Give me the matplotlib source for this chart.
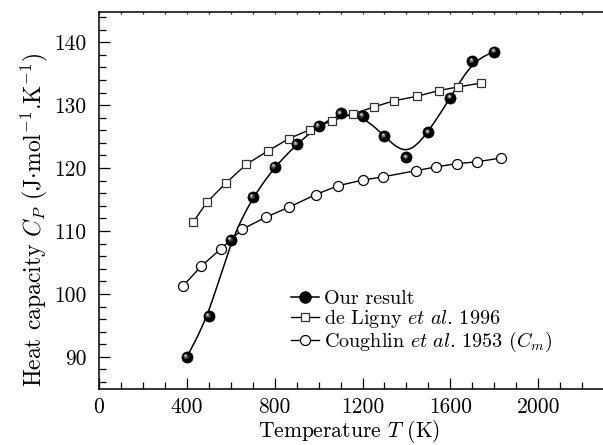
import numpy as np
import matplotlib
matplotlib.use("Agg")
import matplotlib.pyplot as plt
from matplotlib.ticker import MultipleLocator
import matplotlib.transforms as mtransforms

plt.rcParams['font.family'] = 'serif'
plt.rcParams['font.serif'] = ['cmr10']
plt.rcParams['mathtext.fontset'] = 'cm'
plt.rcParams['axes.unicode_minus'] = False

# ---- data ----
our_T = [400, 500, 600, 700, 800, 900, 1000, 1100, 1200, 1300, 1400, 1500, 1600, 1700, 1800]
our_cp = [90.0, 96.5, 108.6, 115.4, 120.2, 123.8, 126.7, 128.7, 128.3, 125.1, 121.7, 125.7, 131.2, 137.0, 138.5]

ligny_T = [428, 492, 577, 671, 768, 866, 960, 1061, 1156, 1251, 1344, 1447, 1546, 1635, 1739]
ligny_cp = [111.4, 114.6, 117.6, 120.6, 122.7, 124.7, 126.1, 127.5, 128.6, 129.7, 130.7, 131.4, 132.3, 132.9, 133.5]

cough_T = [383, 465, 556, 653, 760, 866, 987, 1089, 1201, 1292, 1445, 1536, 1629, 1722, 1830]
cough_cp = [101.3, 104.4, 107.2, 110.3, 112.2, 113.8, 115.8, 117.2, 118.1, 118.6, 119.6, 120.2, 120.7, 121.0, 121.6]

labels = ["Our result", r"de Ligny $\it{et\ al}$. 1996", r"Coughlin $\it{et\ al}$. 1953 ($C_m$)"]


def bspline(xs, ys, n=30):
    """Uniform cubic B-spline through control points (clamped ends)."""
    P = np.column_stack([xs, ys]).astype(float)
    P = np.vstack([P[0], P[0], P, P[-1], P[-1]])
    out = []
    t = np.linspace(0, 1, n, endpoint=False)
    b0 = (1 - t) ** 3 / 6
    b1 = (3 * t ** 3 - 6 * t ** 2 + 4) / 6
    b2 = (-3 * t ** 3 + 3 * t ** 2 + 3 * t + 1) / 6
    b3 = t ** 3 / 6
    for i in range(len(P) - 3):
        seg = (b0[:, None] * P[i] + b1[:, None] * P[i + 1] +
               b2[:, None] * P[i + 2] + b3[:, None] * P[i + 3])
        out.append(seg)
    out.append(P[-1][None, :])
    out = np.vstack(out)
    return out[:, 0], out[:, 1]


fig = plt.figure(figsize=(6.03, 4.45), dpi=100)
ax = fig.add_axes([99 / 603, 56 / 445, 1 - 99 / 603, 377 / 445])

# curves
cx, cy = bspline(our_T, our_cp)
ax.plot(cx, cy, color='black', lw=1.1, zorder=2)
l2, = ax.plot(ligny_T, ligny_cp, color='black', lw=1.0, marker='s', ms=6.2,
              mfc='white', mec='#333333', mew=0.9, zorder=3)
l3, = ax.plot(cough_T, cough_cp, color='black', lw=1.0, marker='o', ms=7.2,
              mfc='white', mec='black', mew=0.9, zorder=3)

# shaded balls
ax.plot(our_T, our_cp, ls='none', marker='o', ms=8.0, mfc='black', mec='black',
        mew=0.5, zorder=4)
hl_specs = [(3.6, '#3a3a3a', 1.2), (2.6, '#707070', 1.4), (1.6, '#b0b0b0', 1.6), (0.8, '#eeeeee', 1.7)]
for ms, col, off in hl_specs:
    tr = mtransforms.offset_copy(ax.transData, fig=fig, x=-off * 0.72, y=off * 0.72, units='points')
    ax.plot(our_T, our_cp, ls='none', marker='o', ms=ms, mfc=col, mec='none',
            transform=tr, zorder=5)
l1, = ax.plot([], [], color='black', lw=1.1, marker='o', ms=8.0, mfc='black', mec='black')

ax.set_xlim(0, 2295)
ax.set_ylim(84.9, 144.8)

ax.xaxis.set_major_locator(MultipleLocator(400))
ax.xaxis.set_minor_locator(MultipleLocator(100))
ax.yaxis.set_major_locator(MultipleLocator(10))
ax.yaxis.set_minor_locator(MultipleLocator(2))

ax.tick_params(axis='both', which='both', direction='in', width=0.9, labelsize=15.5)
ax.tick_params(axis='both', which='major', length=8)
ax.tick_params(axis='both', which='minor', length=4.8)
ax.tick_params(axis='x', which='both', top=True)
ax.tick_params(axis='x', which='major', pad=6)
ax.tick_params(axis='y', which='major', pad=9)
for t in ax.xaxis.get_major_ticks() + ax.xaxis.get_minor_ticks():
    t.tick2line.set_markersize(1.5)

ax.spines['right'].set_visible(False)
for s in ['left', 'bottom', 'top']:
    ax.spines[s].set_linewidth(1.1)

ax.set_xlabel(r"Temperature $T$ (K)", fontsize=15.5)
ax.xaxis.set_label_coords(0.497, -0.077)
ax.xaxis.label.set_va('top')
ax.set_ylabel(r"Heat capacity $C_P$ (J$\cdot$mol$^{-1}$.K$^{-1}$)", fontsize=17)
ax.yaxis.set_label_coords(-0.128, 0.45)
ax.yaxis.label.set_va('center')

leg = ax.legend([l1, l2, l3], labels,
                loc='upper left', bbox_to_anchor=(0.352, 0.3), frameon=False,
                fontsize=14.5, handlelength=1.4, handletextpad=0.25, labelspacing=0.0,
                borderpad=0.2)

fig.savefig("out.png", dpi=100)
